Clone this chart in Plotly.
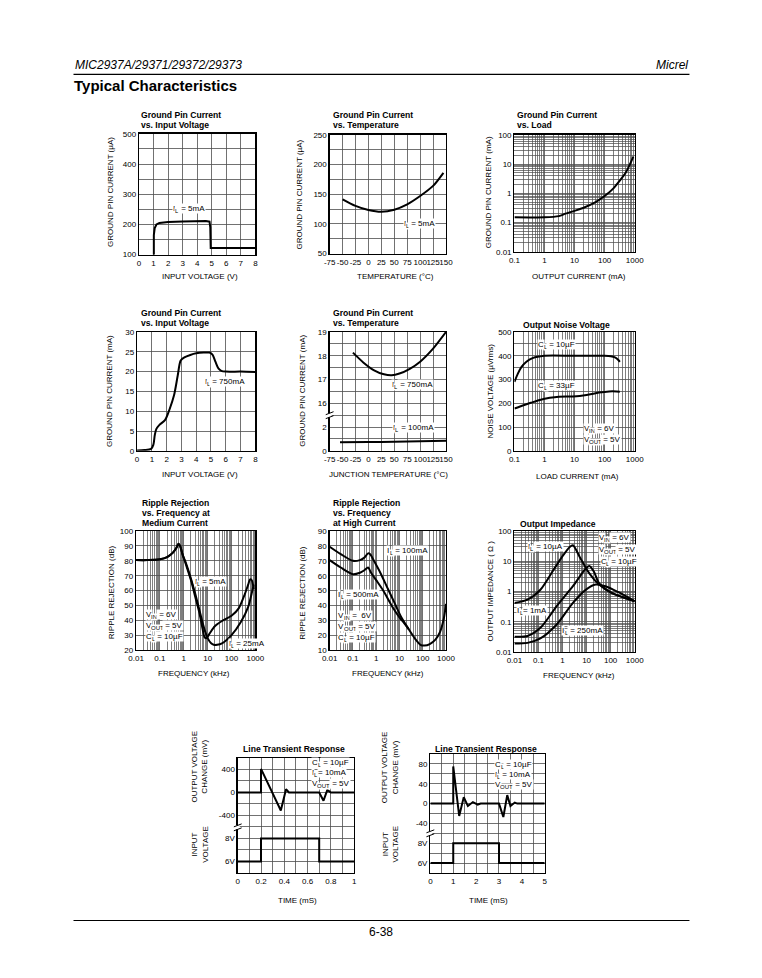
import plotly.graph_objects as go

W, H = 762, 978
FONT = "Liberation Sans, Arial, Helvetica, sans-serif"
GRID = "#4d4d4d"
GW = 0.8

# ---------------- data ----------------
# 1: Ground pin current vs input voltage, IL = 5mA (uA)
p1_vin = [1.02, 1.02, 1.08, 1.2, 1.4, 1.7, 2.0, 3.0, 4.0, 4.6, 4.85, 4.9, 4.93, 5.2, 8.0]
p1_ignd = [100, 165, 188, 200, 205, 207, 208, 210, 211, 211, 209, 190, 122, 122, 122]

# 2: Ground pin current vs temperature, IL = 5mA (uA)
p2_temp = [-50, -25, 0, 25, 50, 75, 100, 125, 145]
p2_ignd = [141.5, 130.5, 123.5, 120.5, 124, 133, 147, 164, 186]

# 3: Ground pin current vs load (mA)
p3_load = [0.1, 1, 3, 5, 10, 20, 50, 100, 200, 300, 500, 700, 900]
p3_ignd = [0.15, 0.15, 0.165, 0.2, 0.25, 0.32, 0.5, 0.8, 1.5, 2.5, 5, 10, 18]

# 4: Ground pin current vs input voltage, IL = 750mA (mA)
p4_vin = [0, 0.5, 0.95, 1.1, 1.2, 1.3, 1.5, 1.9, 2.2, 2.5, 2.75, 2.95, 3.2, 3.6, 4.0, 4.5, 4.9, 5.1, 5.3, 5.5, 5.7, 6.0, 7.0, 8.0]
p4_ignd = [0.1, 0.2, 0.5, 1.5, 4.0, 5.5, 6.5, 7.8, 10.5, 14, 19, 22.8, 23.6, 24.2, 24.6, 24.8, 24.8, 24.3, 22.5, 20.8, 20.2, 20, 20, 19.9]

# 5: Ground pin current vs junction temperature (mA)
p5_temp_750 = [-30, -10, 10, 30, 45, 60, 80, 100, 125, 150]
p5_ignd_750 = [18.13, 17.72, 17.4, 17.22, 17.18, 17.25, 17.45, 17.75, 18.3, 19.0]
p5_temp_100 = [-55, 0, 50, 100, 150]
p5_ignd_100 = [0.72, 0.74, 0.77, 0.8, 0.85]
p5_ticktext = ["0", "2", "16", "17", "18", "19"]

temp_ticks = [-75, -50, -25, 0, 25, 50, 75, 100, 125, 150]
temp_ticktext = ["-75", "-50", "-25", "0", "25", "50", "75", "100", "125", "150"]

# 6: Output noise voltage (uVrms) vs load current (mA)
p6_load_10 = [0.1, 0.13, 0.17, 0.25, 0.4, 0.7, 1, 10, 100, 160, 220, 280, 320]
p6_noise_10 = [290, 325, 352, 375, 390, 397, 400, 400, 400, 398, 393, 383, 374]
p6_load_33 = [0.1, 0.2, 0.35, 0.7, 1.5, 3, 9, 25, 65, 140, 250, 320]
p6_noise_33 = [178, 192, 202, 214, 223, 228, 229, 235, 245, 250, 250, 249]

# 7: Ripple rejection at medium current (dB) vs frequency (kHz)
p7_f_5 = [0.01, 0.03, 0.1, 0.2, 0.35, 0.5, 0.6, 0.7, 0.9, 1.2, 2, 3, 4.5, 6, 7.5, 9, 12, 20, 40, 100, 200, 350, 500, 600, 700, 850]
p7_r_5 = [80.5, 80.5, 81, 82.5, 85.5, 89, 91.5, 90, 84, 78, 67, 56, 45, 35, 28.5, 28, 31, 36, 39.5, 43, 48, 57, 64, 67.5, 67, 61]
p7_f_25 = [0.01, 0.03, 0.1, 0.2, 0.35, 0.5, 0.6, 0.7, 0.9, 1.2, 2, 3, 4.5, 6, 8, 10, 14, 18, 25, 40, 100, 250, 500, 700, 850]
p7_r_25 = [80.5, 80.5, 81, 82.5, 85.5, 89, 91.5, 90, 84, 79, 68, 58, 47, 39, 32, 28, 24.5, 23.5, 23.5, 24.5, 30, 39, 49, 58, 64]

# 8: Ripple rejection at high current (dB) vs frequency (kHz)
p8_f_100 = [0.01, 0.03, 0.1, 0.2, 0.3, 0.45, 0.55, 0.8, 1.5, 3, 6, 12, 25, 50, 80, 120, 200, 350, 550, 800, 1000]
p8_r_100 = [79.5, 74.5, 70, 70.5, 72, 75, 74.5, 70, 62, 52, 42, 32, 24, 17, 13.5, 13, 14, 17, 22, 31, 41]
p8_f_500 = [0.01, 0.03, 0.1, 0.2, 0.3, 0.45, 0.6, 1, 2, 5, 10, 15, 25]
p8_r_500 = [70.5, 65.5, 61, 62, 63.5, 65.5, 62, 57, 50, 39, 32, 28.5, 24]

# 9: Output impedance (ohm) vs frequency (kHz)
p9_f_10u = [0.01, 0.035, 0.12, 0.42, 1.07, 2.0, 2.7, 5.1, 13, 33, 110, 1000]
p9_z_10u = [0.42, 0.54, 1.15, 5.2, 16, 30, 34, 14.3, 4, 1.7, 0.9, 0.48]
p9_f_1m = [0.01, 0.035, 0.12, 0.57, 2.7, 9.4, 13, 20, 33, 110, 1000]
p9_z_1m = [0.032, 0.034, 0.063, 0.33, 1.5, 5.9, 7, 4.6, 1.9, 0.9, 0.48]
p9_f_250m = [0.01, 0.035, 0.12, 0.57, 2.7, 9.4, 24, 61, 210, 1000]
p9_z_250m = [0.019, 0.02, 0.028, 0.081, 0.42, 1.16, 1.7, 1.5, 0.95, 0.48]

# 10: Line transient response (0..1 ms)
p10_t_out = [0, 0.2, 0.2, 0.37, 0.415, 0.44, 0.70, 0.737, 0.77, 0.80, 1.0]
p10_mv_out = [0, 0, 410, -314, 57, 0, 0, -143, 46, 0, 0]
p10_t_in = [0, 0.2, 0.2, 0.70, 0.70, 1.0]
p10_v_in = [6, 6, 8, 8, 6, 6]
p10_ticktext = ["6V", "8V", "-400", "0", "400"]

# 11: Line transient response (0..5 ms)
p11_t_out = [0, 1.0, 1.0, 1.26, 1.46, 1.64, 1.86, 2.07, 2.2, 3.0, 3.19, 3.36, 3.5, 3.69, 3.8, 5.0]
p11_mv_out = [0, 0, 75, -25, 13, -5, 3, -2, 0, 0, -27, 17, -5, 2, 0, 0]
p11_t_in = [0, 1.0, 1.0, 3.0, 3.0, 5.0]
p11_v_in = [6, 6, 8, 8, 6, 6]
p11_ticktext = ["6V", "8V", "-40", "0", "40", "80"]

# ---------------- layout helpers ----------------
boxes = {
    1: (134, 253, 131, 253),
    2: (329, 448, 132, 252),
    3: (518, 641, 132, 250),
    4: (132, 253, 331, 451),
    5: (329, 448, 331, 451),
    6: (518, 641, 331, 451),
    7: (131, 253, 532, 652),
    8: (329, 448, 532, 652),
    9: (518, 641, 532, 654),
    10: (235, 354, 761, 877),
    11: (432, 549, 757, 877),
}


def base():
    return dict(showline=True, linecolor="black", linewidth=1.3, mirror=True,
                ticks="", showgrid=True, gridcolor=GRID, gridwidth=GW,
                zeroline=False, fixedrange=True, tickangle=0,
                tickfont=dict(size=8, family=FONT, color="black"))


def lin(rng, major, minor=None, text=None):
    d = base()
    d.update(range=rng, tickmode="array", tickvals=major)
    if text is not None:
        d["ticktext"] = text
    if minor:
        d["minor"] = dict(tickmode="array", tickvals=minor, showgrid=True,
                          gridcolor=GRID, gridwidth=GW, ticks="")
    return d


def fmt(v):
    return ("%g" % v)


def logax(lo, hi):
    d = base()
    major = [10.0 ** e for e in range(lo, hi + 1)]
    minor = [m * 10.0 ** e for e in range(lo, hi) for m in range(2, 10)]
    d.update(type="log", range=[lo, hi], tickmode="array", tickvals=major,
             ticktext=[fmt(v) for v in major])
    d["minor"] = dict(tickmode="array", tickvals=minor, showgrid=True,
                      gridcolor=GRID, gridwidth=GW * 0.9, ticks="")
    return d


def steps(a, b, s):
    out = []
    v = a
    while v <= b + 1e-9:
        out.append(round(v, 6))
        v += s
    return out


axes_x = {
    1: lin([0, 8], steps(0, 8, 1), text=[str(i) for i in range(9)]),
    2: lin([-75, 150], temp_ticks, text=temp_ticktext),
    3: logax(-1, 3),
    4: lin([0, 8], steps(0, 8, 1), text=[str(i) for i in range(9)]),
    5: lin([-75, 150], temp_ticks, text=temp_ticktext),
    6: logax(-1, 3),
    7: logax(-2, 3),
    8: logax(-2, 3),
    9: logax(-2, 3),
    10: lin([0, 1], steps(0, 1, 0.2), minor=steps(0.1, 0.9, 0.2),
            text=["0", "0.2", "0.4", "0.6", "0.8", "1"]),
    11: lin([0, 5], steps(0, 5, 1), minor=steps(0.5, 4.5, 1),
            text=["0", "1", "2", "3", "4", "5"]),
}
axes_y = {
    1: lin([100, 500], steps(100, 500, 100), minor=steps(150, 450, 100)),
    2: lin([50, 250], steps(50, 250, 50), minor=steps(75, 225, 50)),
    3: logax(-2, 2),
    4: lin([0, 30], steps(0, 30, 5)),
    5: lin([0, 5], steps(0, 5, 1), minor=steps(0.5, 4.5, 1), text=p5_ticktext),
    6: lin([0, 500], steps(0, 500, 100), minor=steps(50, 450, 100)),
    7: lin([20, 100], steps(20, 100, 10)),
    8: lin([10, 90], steps(10, 90, 10)),
    9: logax(-2, 2),
    10: lin([-0.5, 4.5], steps(0, 4, 1), minor=steps(0.5, 3.5, 1), text=p10_ticktext),
    11: lin([-0.5, 5.5], steps(0, 5, 1), minor=steps(0.5, 4.5, 1), text=p11_ticktext),
}

layout = dict(width=W, height=H, autosize=False,
              margin=dict(l=0, r=0, t=0, b=0, pad=0),
              paper_bgcolor="white", plot_bgcolor="white", showlegend=False,
              font=dict(family=FONT, size=8, color="black"))

for i, (x0, x1, y0, y1) in boxes.items():
    xa = axes_x[i]
    ya = axes_y[i]
    xa.update(domain=[x0 / W, x1 / W], anchor="y" if i == 1 else "y%d" % i)
    ya.update(domain=[1 - y1 / H, 1 - y0 / H], anchor="x" if i == 1 else "x%d" % i)
    layout["xaxis" if i == 1 else "xaxis%d" % i] = xa
    layout["yaxis" if i == 1 else "yaxis%d" % i] = ya

fig = go.Figure()


def line(i, x, y, shape="spline", w=2.0):
    fig.add_trace(go.Scatter(
        x=x, y=y, mode="lines",
        xaxis="x" if i == 1 else "x%d" % i,
        yaxis="y" if i == 1 else "y%d" % i,
        line=dict(color="black", width=w, shape=shape, smoothing=0.8 if shape == "spline" else None),
        hoverinfo="skip"))


# broken-axis mappings
def p5_map(v):
    return v / 2.0 if v <= 2 else v - 14.0


def p10_out(mv):
    return 3 + mv / 400.0


def p11_out(mv):
    return 3 + mv / 40.0


def vin_map(v):
    return (v - 6) / 2.0


line(1, p1_vin, p1_ignd, shape="linear")
line(2, p2_temp, p2_ignd)
line(3, p3_load, p3_ignd)
line(4, p4_vin, p4_ignd)
line(5, p5_temp_750, [p5_map(v) for v in p5_ignd_750])
line(5, p5_temp_100, [p5_map(v) for v in p5_ignd_100])
line(6, p6_load_10, p6_noise_10)
line(6, p6_load_33, p6_noise_33)
line(7, p7_f_5, p7_r_5)
line(7, p7_f_25, p7_r_25)
line(8, p8_f_100, p8_r_100)
line(8, p8_f_500, p8_r_500)
line(9, p9_f_10u, p9_z_10u)
line(9, p9_f_1m, p9_z_1m)
line(9, p9_f_250m, p9_z_250m)
line(10, p10_t_out, [p10_out(v) for v in p10_mv_out], shape="linear")
line(10, p10_t_in, [vin_map(v) for v in p10_v_in], shape="linear")
line(11, p11_t_out, [p11_out(v) for v in p11_mv_out], shape="linear")
line(11, p11_t_in, [vin_map(v) for v in p11_v_in], shape="linear")

# ---------------- text ----------------
ann = []


def T(x, y, text, size=8, xanchor="left", angle=0, bg=None, bold=False):
    if bold:
        text = "<b>%s</b>" % text
    a = dict(x=x / W, y=1 - y / H, xref="paper", yref="paper", text=text,
             showarrow=False, xanchor=xanchor, yanchor="middle", textangle=angle,
             font=dict(family=FONT, size=size, color="black"), borderpad=0)
    if bg:
        a["bgcolor"] = bg
    ann.append(a)


# approximate Arial / Liberation Sans advance widths (per 1000 em)
ADV = {" ": 278, "\u00a0": 278, "=": 584, "m": 833, "A": 667, "µ": 576, "F": 611,
       "V": 667, "I": 278, "L": 556, "C": 722, "N": 722, "O": 778, "U": 722, "T": 611}


def textw(s, size):
    return sum(ADV.get(c, 556) for c in s) * size / 1000.0


def SL(x, y, base_, sub, rest, bg="white"):
    """label with a subscript, drawn as three pieces of text"""
    rest = rest.replace(" ", "\u00a0")
    T(x, y, base_, size=8, bg=bg)
    x2 = x + textw(base_, 8)
    T(x2, y + 2.5, sub, size=6, bg=bg)
    x3 = x2 + textw(sub, 6)
    T(x3, y, rest, size=8, bg=bg)


# header / footer
T(67, 62, "<i>MIC2937A/29371/29372/29373</i>", size=12)
T(697, 62, "<i>Micrel</i>", size=12, xanchor="right")
T(66, 82, "Typical Characteristics", size=15, bold=True)
T(381, 937, "6-38", size=12, xanchor="center")

# panel titles
TS = 8.6
for x, lines_, ys in [
    (135, ["Ground Pin Current", "vs. Input Voltage"], [112, 122]),
    (331, ["Ground Pin Current", "vs. Temperature"], [112, 122]),
    (520, ["Ground Pin Current", "vs. Load"], [112, 122]),
    (135, ["Ground Pin Current", "vs. Input Voltage"], [312, 322]),
    (331, ["Ground Pin Current", "vs. Temperature"], [312, 322]),
    (526, ["Output Noise Voltage"], [324]),
    (136, ["Ripple Rejection", "vs. Frequency at", "Medium Current"], [504, 514, 524]),
    (331, ["Ripple Rejection", "vs. Frequency", "at High Current"], [504, 514, 524]),
    (523, ["Output Impedance"], [525]),
]:
    for s, y in zip(lines_, ys):
        T(x, y, s, size=TS, bold=True)
T(293, 752, "Line Transient Response", size=TS, bold=True, xanchor="center")
T(489, 752, "Line Transient Response", size=TS, bold=True, xanchor="center")

# axis titles
T(105, 190, "GROUND PIN CURRENT (µA)", size=8, xanchor="center", angle=-90)
T(298, 192, "GROUND PIN CURRENT (µA)", size=8, xanchor="center", angle=-90)
T(491, 190, "GROUND PIN CURRENT (mA)", size=8, xanchor="center", angle=-90)
T(104, 391, "GROUND PIN CURRENT (mA)", size=8, xanchor="center", angle=-90)
T(301, 390, "GROUND PIN CURRENT (mA)", size=8, xanchor="center", angle=-90)
T(493, 391, "NOISE VOLTAGE (µVrms)", size=8, xanchor="center", angle=-90)
T(106, 594, "RIPPLE REJECTION (dB)", size=8, xanchor="center", angle=-90)
T(301, 594, "RIPPLE REJECTION (dB)", size=8, xanchor="center", angle=-90)
T(494, 592, "OUTPUT IMPEDANCE ( Ω )", size=8, xanchor="center", angle=-90)
T(196, 770, "OUTPUT VOLTAGE<br>CHANGE (mV)", size=8, xanchor="center", angle=-90)
T(196, 848, "INPUT<br>VOLTAGE", size=8, xanchor="center", angle=-90)
T(391, 770, "OUTPUT VOLTAGE<br>CHANGE (mV)", size=8, xanchor="center", angle=-90)
T(391, 848, "INPUT<br>VOLTAGE", size=8, xanchor="center", angle=-90)

T(196, 275, "INPUT VOLTAGE (V)", size=8, xanchor="center")
T(396, 275, "TEMPERATURE (°C)", size=8, xanchor="center")
T(584, 275, "OUTPUT CURRENT (mA)", size=8, xanchor="center")
T(196, 475, "INPUT VOLTAGE (V)", size=8, xanchor="center")
T(389, 475, "JUNCTION TEMPERATURE (°C)", size=8, xanchor="center")
T(583, 477, "LOAD CURRENT (mA)", size=8, xanchor="center")
T(190, 676, "FREQUENCY (kHz)", size=8, xanchor="center")
T(389, 676, "FREQUENCY (kHz)", size=8, xanchor="center")
T(584, 678, "FREQUENCY (kHz)", size=8, xanchor="center")
T(296, 905, "TIME (mS)", size=8, xanchor="center")
T(491, 905, "TIME (mS)", size=8, xanchor="center")

# in-plot labels
SL(168, 206, "I", "L", " = 5mA")
SL(404, 222, "I", "L", " = 5mA")
SL(200, 381, "I", "L", " = 750mA")
SL(392, 384, "I", "L", " = 750mA")
SL(393, 427, "I", "L", " = 100mA")
SL(541, 344, "C", "L", " = 10µF")
SL(541, 385, "C", "L", " = 33µF")
SL(588, 428, "V", "IN", " = 6V")
SL(588, 440, "V", "OUT", " = 5V")
SL(190, 583, "I", "L", " = 5mA")
SL(225, 645, "I", "L", " = 25mA")
SL(140, 616, "V", "IN", " = 6V")
SL(140, 627, "V", "OUT", " = 5V")
SL(140, 638, "C", "L", " = 10µF")
SL(387, 552, "I", "L", " = 100mA")
SL(337, 596, "I", "L", " = 500mA")
SL(337, 617, "V", "IN", " =  6V")
SL(337, 628, "V", "OUT", " = 5V")
SL(337, 639, "C", "L", " = 10µF")
SL(531, 548, "I", "L", " = 10µA")
SL(603, 538, "V", "IN", " = 6V")
SL(603, 551, "V", "OUT", " = 5V")
SL(605, 563, "C", "L", " = 10µF")
SL(520, 612, "I", "L", "= 1mA")
SL(566, 632, "I", "L", " = 250mA")
SL(310, 766, "C", "L", " = 10µF")
SL(310, 776, "I", "L", "= 10mA")
SL(310, 787, "V", "OUT", " = 5V")
SL(497, 768, "C", "L", " = 10µF")
SL(497, 778, "I", "L", " = 10mA")
SL(497, 788, "V", "OUT", " = 5V")

layout["annotations"] = ann


def P(x, y):
    return x / W, 1 - y / H


shapes = []
for y_ in (71, 925):
    xa_, ya_ = P(67, y_)
    xb_, _ = P(697, y_)
    shapes.append(dict(type="line", xref="paper", yref="paper", x0=xa_, x1=xb_,
                       y0=ya_, y1=ya_, line=dict(color="black", width=1.2)))

# axis break marks (y-axis of panels 5, 10, 11)
for bx, by in [(329, 415), (235, 831), (432, 837)]:
    x0_, y0_ = P(bx - 2, by + 2)
    x1_, y1_ = P(bx + 2, by - 2)
    shapes.append(dict(type="rect", xref="paper", yref="paper", x0=x0_, x1=x1_,
                       y0=y0_, y1=y1_, fillcolor="white", line=dict(width=0)))
    for dy in (-2, 2):
        xa_, ya_ = P(bx - 4, by + dy + 1.5)
        xb_, yb_ = P(bx + 4, by + dy - 1.5)
        shapes.append(dict(type="line", xref="paper", yref="paper", x0=xa_, x1=xb_,
                           y0=ya_, y1=yb_, line=dict(color="black", width=1)))
layout["shapes"] = shapes

fig.update_layout(**layout)
fig.write_html(
    "out.html",
    config={"displayModeBar": False, "staticPlot": True},
    post_script="document.body.style.margin='0px';document.body.style.padding='0px';"
                "document.body.style.overflow='hidden';",
)
